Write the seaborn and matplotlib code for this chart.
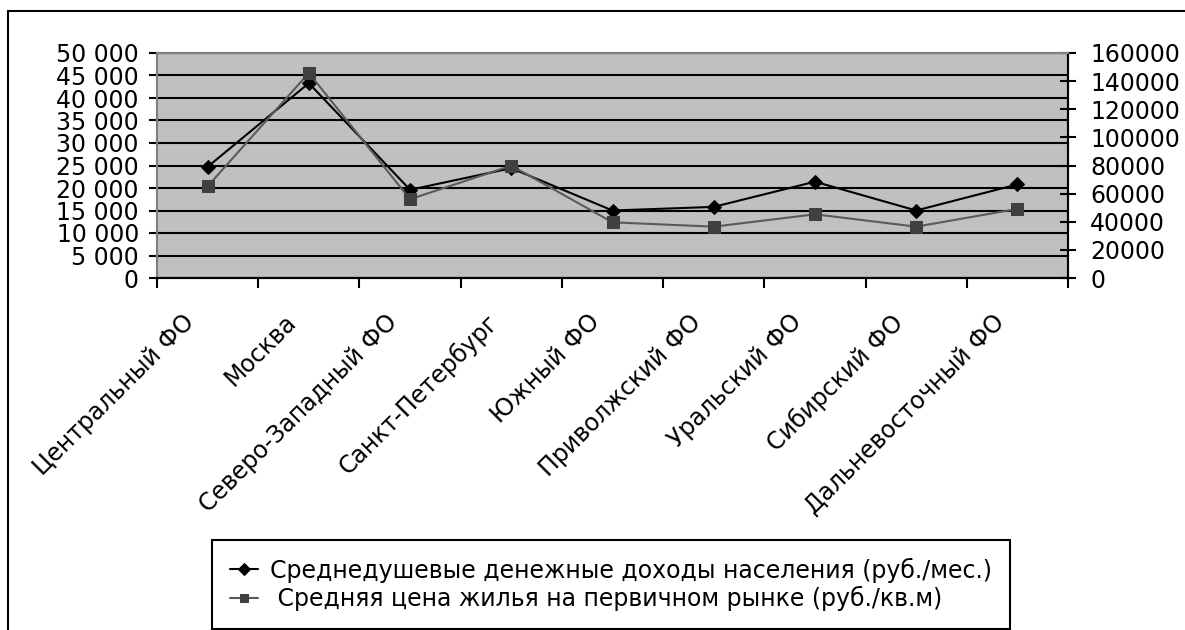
import pandas as pd
import matplotlib
matplotlib.use("Agg")
import matplotlib.pyplot as plt
import matplotlib.ticker as mticker
from matplotlib.patches import Rectangle
import seaborn as sns

# Data
regions = ['Центральный ФО', 'Москва', 'Северо-Западный ФО', 'Санкт-Петербург',
           'Южный ФО', 'Приволжский ФО', 'Уральский ФО', 'Сибирский ФО',
           'Дальневосточный ФО']
income = [24700, 43300, 19600, 24400, 15000, 15800, 21400, 15000, 20800]
price = [65200, 145800, 56000, 79900, 39600, 36500, 45300, 36500, 49100]

label_income = 'Среднедушевые денежные доходы населения (руб./мес.)'
label_price = ' Средняя цена жилья на первичном рынке (руб./кв.м)'

df = pd.DataFrame({'region': regions, 'income': income, 'price': price})

sns.set_style('white')
plt.rcParams['font.family'] = ['DejaVu Sans']
plt.rcParams['text.color'] = 'black'
plt.rcParams['xtick.color'] = 'black'
plt.rcParams['ytick.color'] = 'black'
fs = 17

fig = plt.figure(figsize=(11.85, 6.3), dpi=100)
ax = fig.add_axes([157 / 1185, 1 - 278 / 630, (1068 - 157) / 1185, (278 - 53) / 630])
ax.set_facecolor('#c0c0c0')

# outer chart border (Excel style)
fig.patches.append(Rectangle((8 / 1185, -0.05), 1.1, 1 - 11 / 630 + 0.05,
                             transform=fig.transFigure, fill=False,
                             edgecolor='black', linewidth=1.5, zorder=0))

sns.lineplot(data=df, x='region', y='income', ax=ax, sort=False, color='black',
             marker='D', markersize=7.5, markeredgecolor='black', linewidth=1.5,
             label=label_income, legend=False, zorder=5)

ax2 = ax.twinx()
sns.lineplot(data=df, x='region', y='price', ax=ax2, sort=False, color='#5a5a5a',
             marker='s', markersize=8, markerfacecolor='#404040',
             markeredgecolor='#404040', linewidth=1.5,
             label=label_price, legend=False, zorder=4)

ax.set_ylim(0, 50000)
ax2.set_ylim(0, 160000)
ax.set_xlim(-0.5, len(regions) - 0.5)

ax.yaxis.set_major_locator(mticker.MultipleLocator(5000))
ax.yaxis.set_major_formatter(mticker.FuncFormatter(lambda v, p: f'{int(v):,}'.replace(',', ' ')))
ax2.yaxis.set_major_locator(mticker.MultipleLocator(20000))
ax2.yaxis.set_major_formatter(mticker.FuncFormatter(lambda v, p: f'{int(v)}'))

ax.grid(axis='y', color='black', linewidth=1.5)
ax.set_axisbelow(True)

# category ticks between categories; rotated labels hang just left of each centre
ax.set_xticks([i - 0.5 for i in range(len(regions) + 1)])
ax.set_xticklabels([])
ax.set_xticks([i - 0.25 for i in range(len(regions))], minor=True)
ax.set_xticklabels(regions, minor=True, rotation=45, ha='right', va='top',
                   rotation_mode='anchor', fontsize=fs)
ax.tick_params(axis='x', which='major', direction='out', length=7, width=1.5,
               color='black', bottom=True)
ax.tick_params(axis='x', which='minor', length=0, pad=23)
ax.tick_params(axis='y', direction='out', length=6, width=1.5, color='black',
               left=True, labelsize=fs, pad=7)
ax2.tick_params(axis='y', direction='inout', length=12, width=1.5, color='black',
                right=True, labelsize=fs, pad=10)

ax.set_xlabel('')
ax.set_ylabel('')
ax2.set_ylabel('')

for a in (ax, ax2):
    a.spines['top'].set_color('#808080')
    a.spines['left'].set_color('#808080')
    a.spines['bottom'].set_color('black')
    a.spines['right'].set_color('black')
    for s in a.spines.values():
        s.set_linewidth(1.5)

h1, l1 = ax.get_legend_handles_labels()
h2, l2 = ax2.get_legend_handles_labels()
leg = fig.legend(h1 + h2, l1 + l2, loc='lower center',
                 bbox_to_anchor=(611 / 1185, 1 / 630), bbox_transform=fig.transFigure,
                 prop={'size': 17}, frameon=True, fancybox=False, framealpha=1,
                 edgecolor='black', handlelength=1.2, markerscale=0.75,
                 borderpad=0.75, labelspacing=0.15, handletextpad=0.5,
                 borderaxespad=0)
leg.get_frame().set_linewidth(1.5)

fig.savefig('out.png', dpi=100)
